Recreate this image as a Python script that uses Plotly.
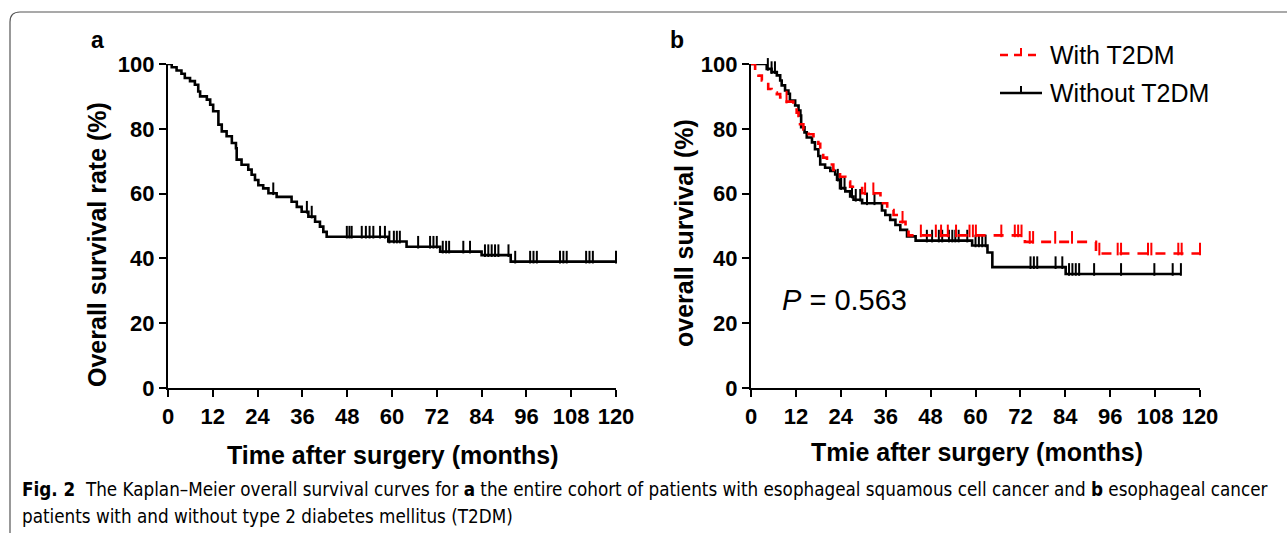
import plotly.graph_objects as go

W, H = 1287, 533

# ---------------- data ----------------
# Panel a: entire cohort
a_times = [0, 1.0, 2.3, 3.6, 4.5, 5.9, 7.2, 8.1, 8.6, 10.4, 11.3, 12.1, 13.5, 14.4, 15.7,
           17.1, 18.2, 18.4, 19.7, 21.5, 22.4, 23.3, 24.2, 25.5, 26.9, 29.1, 33.1, 34.5,
           35.8, 37.6, 39.4, 40.7, 41.6, 42.5, 59.0, 63.9, 72.9, 84.0, 91.8, 120]
a_surv = [100, 99, 98, 97, 95.7, 94.7, 93.6, 91.5, 90, 89, 87.4, 85.4, 81.3, 79.2, 77.7,
          75.6, 74, 70.5, 68.9, 67.4, 65.8, 64.2, 62.6, 61.6, 60.1, 59.0, 57.5, 55.9,
          54.4, 52.9, 51.3, 49.8, 48.2, 46.7, 45.2, 43.6, 42.1, 41.0, 39.0, 39.0]
a_censor = [28.2, 37.2, 38.5, 47.9, 48.6, 49.2, 51.9, 53.0, 54.0, 55.0, 56.8, 58.1,
            59.3, 60.5, 61.3, 62.1, 67.0, 70.2, 71.1, 72.0, 73.6, 74.5, 75.3, 79.1, 80.9,
            84.9, 85.8, 86.7, 87.6, 88.5, 91.2, 93.0, 97.0, 97.9, 98.8, 105.0, 105.9,
            106.8, 112.0, 112.9, 113.8, 120]

# Panel b: with T2DM (red, dashed)
b_with_times = [0, 1.1, 2.0, 2.9, 3.8, 4.6, 5.5, 6.9, 7.8, 8.2, 11.3, 12.2, 12.7, 13.1,
                14.0, 15.4, 16.7, 18.0, 18.5, 19.3, 20.3, 22.0, 23.8, 25.2, 26.5, 29.7,
                34.6, 36.4, 38.1, 39.9, 41.3, 42.1, 73.2, 92.2, 120]
b_with_surv = [100, 98.0, 96.4, 94.9, 93.8, 92.3, 91.2, 90.7, 89.7, 88.4, 87.1, 85.0, 84.0,
               81.4, 79.8, 78.3, 77.3, 75.4, 72.6, 71.1, 69.0, 67.3, 65.2, 63.7, 62.1, 60.1,
               57.0, 54.9, 53.4, 51.3, 49.7, 47.1, 45.1, 41.5, 41.5]
b_with_censor = [9.5, 30.5, 32.7, 40.5, 45.4, 49.4, 50.8, 52.6, 54.8, 58.4, 59.3, 60.1,
                 66.9, 70.5, 71.4, 72.3, 74.5, 75.4, 81.3, 85.8, 93.1, 98.0, 98.9, 106.1,
                 107.0, 114.2, 115.1, 120]

# Panel b: without T2DM (black, solid)
b_without_times = [0, 4.2, 5.5, 6.9, 7.8, 8.2, 9.1, 10.0, 10.4, 11.8, 12.7, 13.2, 13.4,
                   14.3, 14.9, 16.3, 17.1, 18.0, 18.5, 19.8, 21.2, 22.5, 23.0, 23.8, 25.2,
                   26.5, 27.4, 29.7, 35.0, 35.9, 37.2, 38.6, 39.9, 41.7, 44.0, 59.1, 63.2,
                   64.5, 84.1, 114.9]
b_without_surv = [100, 98.5, 97.5, 96.5, 94.9, 93.4, 91.8, 90.8, 88.7, 87.2, 85.6, 84.1,
                  80.5, 78.9, 77.3, 75.8, 73.7, 71.6, 69.0, 68.0, 67.0, 65.9, 64.3, 61.7,
                  60.7, 59.1, 58.1, 57.0, 54.8, 53.4, 51.9, 50.3, 48.8, 46.8, 45.5, 44.0,
                  41.8, 37.3, 35.2, 35.2]
b_without_censor = [4.5, 5.5, 6.4, 23.2, 24.1, 25.0, 27.0, 28.0, 29.2, 31.0, 33.0, 47.0,
                    48.4, 50.2, 51.1, 52.9, 53.8, 54.6, 55.5, 57.8, 60.0, 60.9, 61.8, 62.7,
                    74.7, 75.6, 76.5, 81.4, 83.2, 85.0, 85.9, 86.8, 87.7, 91.7, 98.9,
                    107.8, 112.7, 114.9]

x_ticks = list(range(0, 121, 12))
y_ticks = list(range(0, 101, 20))
legend_labels = ["With T2DM", "Without T2DM"]
p_value_text = "<i>P</i> = 0.563"

caption_l1 = ("<b>Fig. 2</b>  The Kaplan–Meier overall survival curves for <b>a</b> the entire cohort "
              "of patients with esophageal squamous cell cancer and <b>b</b> esophageal cancer")
caption_l2 = "patients with and without type 2 diabetes mellitus (T2DM)"


def surv_at(t, times, surv):
    v = surv[0]
    for tt, ss in zip(times, surv):
        if tt <= t:
            v = ss
        else:
            break
    return v


# ---------------- geometry ----------------
def px_x(p):
    return p / W


def px_y(p):
    return 1 - p / H


Y_TOP, Y_BOT = 64, 388
A_L, A_R = 168, 616
B_L, B_R = 751, 1200
px_per_pct = (Y_BOT - Y_TOP) / 100.0
TICK_OFF = 4.5 / px_per_pct

FONT = "Liberation Sans"
CAP_FONT = "DejaVu Sans Condensed, Roboto Condensed, Roboto"

fig = go.Figure()


def add_km(times, surv, censor, color, dash, xa, ya):
    fig.add_trace(go.Scatter(x=times, y=surv, mode="lines", line_shape="hv",
                             line=dict(color=color, width=2.6, dash=dash),
                             xaxis=xa, yaxis=ya, showlegend=False, hoverinfo="skip"))
    fig.add_trace(go.Scatter(x=censor, y=[surv_at(t, times, surv) + TICK_OFF for t in censor],
                             mode="markers", cliponaxis=False,
                             marker=dict(symbol="line-ns", size=9, line=dict(color=color, width=2)),
                             xaxis=xa, yaxis=ya, showlegend=False, hoverinfo="skip"))


add_km(a_times, a_surv, a_censor, "black", "solid", "x", "y")
add_km(b_without_times, b_without_surv, b_without_censor, "black", "solid", "x2", "y2")
add_km(b_with_times, b_with_surv, b_with_censor, "#ff0000", "10px,8px", "x2", "y2")

axis_common = dict(showline=True, linewidth=2.2, linecolor="black", ticks="outside",
                   ticklen=7, tickwidth=2.2, tickcolor="black", showgrid=False,
                   zeroline=False, mirror=False, automargin=False,
                   tickfont=dict(family=FONT, size=22, color="black", weight="bold"))

ydom = [px_y(Y_BOT), px_y(Y_TOP)]
fig.update_layout(
    width=W, height=H, autosize=False,
    margin=dict(l=0, r=0, t=0, b=0, pad=0, autoexpand=False),
    paper_bgcolor="white", plot_bgcolor="white",
    xaxis=dict(domain=[px_x(A_L), px_x(A_R)], range=[0, 120], tickvals=x_ticks, anchor="y", **axis_common),
    yaxis=dict(domain=ydom, range=[0, 100], tickvals=y_ticks, anchor="x", **axis_common),
    xaxis2=dict(domain=[px_x(B_L), px_x(B_R)], range=[0, 120], tickvals=x_ticks, anchor="y2", **axis_common),
    yaxis2=dict(domain=ydom, range=[0, 100], tickvals=y_ticks, anchor="x2", **axis_common),
)

ann = []


def add_text(x, y, text, size, bold=False, xanchor="center", yanchor="middle", angle=0, family=FONT):
    ann.append(dict(x=px_x(x), y=px_y(y), xref="paper", yref="paper", text=text, showarrow=False,
                    xanchor=xanchor, yanchor=yanchor, textangle=angle,
                    font=dict(family=family, size=size, color="black", weight="bold" if bold else "normal")))


# panel labels
add_text(97, 40, "a", 23, bold=True)
add_text(677, 40, "b", 23, bold=True)
# axis titles
add_text(393, 455, "Time after surgery (months)", 25, bold=True)
add_text(97, 245, "Overall survival rate (%)", 25, bold=True, angle=-90)
add_text(977, 452, "Tmie after surgery (months)", 25, bold=True)
add_text(684, 233, "overall survival (%)", 25, bold=True, angle=-90)
# p value
add_text(780, 300, p_value_text, 29, xanchor="left")
# legend texts
add_text(1048, 55, legend_labels[0], 25, xanchor="left")
add_text(1048, 93, legend_labels[1], 25, xanchor="left")
# caption
add_text(20, 490, caption_l1, 18.7, xanchor="left", family=CAP_FONT)
add_text(20, 516, caption_l2, 18.7, xanchor="left", family=CAP_FONT)

fig.update_layout(annotations=ann)

shapes = []
# legend symbols
shapes.append(dict(type="line", xref="paper", yref="paper", x0=px_x(1000), x1=px_x(1042),
                   y0=px_y(55), y1=px_y(55), line=dict(color="#ff0000", width=2.6, dash="8px,6px")))
shapes.append(dict(type="line", xref="paper", yref="paper", x0=px_x(1021), x1=px_x(1021),
                   y0=px_y(55), y1=px_y(48), line=dict(color="#ff0000", width=2)))
shapes.append(dict(type="line", xref="paper", yref="paper", x0=px_x(1000), x1=px_x(1042),
                   y0=px_y(93), y1=px_y(93), line=dict(color="black", width=2.6)))
shapes.append(dict(type="line", xref="paper", yref="paper", x0=px_x(1021), x1=px_x(1021),
                   y0=px_y(93), y1=px_y(86), line=dict(color="black", width=2)))
# rounded figure frame
r = 10
path = (f"M {px_x(10)},{px_y(533)} L {px_x(10)},{px_y(12 + r)} "
        f"Q {px_x(10)},{px_y(12)} {px_x(10 + r)},{px_y(12)} L {px_x(1287)},{px_y(12)}")
shapes.append(dict(type="path", xref="paper", yref="paper", path=path,
                   line=dict(color="#555555", width=1.2)))
fig.update_layout(shapes=shapes)

post = ("document.body.style.margin='0';document.body.style.padding='0';"
        "document.body.style.overflow='hidden';")
fig.write_html("out.html", post_script=post,
               config={"displayModeBar": False, "responsive": False})
